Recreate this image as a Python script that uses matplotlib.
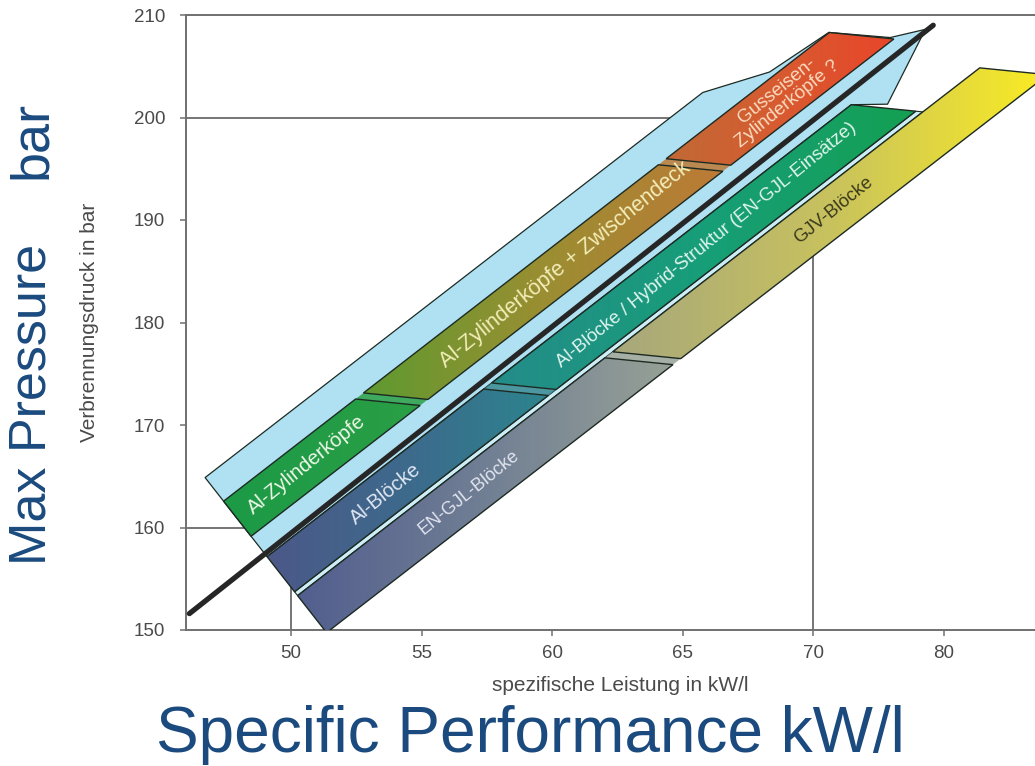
import numpy as np
import matplotlib
matplotlib.use("Agg")
import matplotlib.pyplot as plt
from matplotlib.patches import Polygon
from matplotlib.colors import LinearSegmentedColormap

plt.rcParams['font.family'] = ['Liberation Sans', 'DejaVu Sans']

# ---- axes -------------------------------------------------------------
x_ticks = [50, 55, 60, 65, 70, 75]
x_tick_labels = ['50', '55', '60', '65', '70', '80']
y_ticks = [150, 160, 170, 180, 190, 200, 210]
x_label = 'spezifische Leistung in kW/l'
y_label = 'Verbrennungsdruck in bar'

# ---- development trend (kW/l vs. bar) --------------------------------
trend_x = [46.1, 74.6]
trend_y = [151.6, 209.0]

# design points marked with guide lines
mark_x = [50, 70]
mark_y = [160, 200]

# ---- material bands -----------------------------------------------------
# all bands run parallel to an axis through (axis_x0, axis_y0)
axis_x0, axis_y0, band_slope = 49.0, 157.4, 1.97
steep_cut = -3.25   # slope of the left end of every band
flat_cut = -0.255   # slope of joints and right ends

# rows: upper / lower edge as offset (bar) from the band axis
row_top = [8.3, -0.4, -6.5]
row_bot = [2.8, -5.9, -12.3]

seg_names = ['Al-Zylinderköpfe',
             'Al-Zylinderköpfe + Zwischendeck',
             'Gusseisen-\nZylinderköpfe ?',
             'Al-Blöcke',
             'Al-Blöcke / Hybrid-Struktur (EN-GJL-Einsätze)',
             'EN-GJL-Blöcke',
             'GJV-Blöcke']
seg_row = [0, 0, 0, 1, 1, 2, 2]
seg_start = [49.0, 56.5, 68.1, 49.0, 57.5, 49.0, 59.4]
seg_end = [56.2, 67.8, 74.35, 57.2, 71.28, 59.1, 73.46]
seg_colors = [['#1c9a47', '#2a9f45'],
              ['#5e9a30', '#9a8e32', '#bd7a36'],
              ['#c06a36', '#d85a30', '#e8462a'],
              ['#4c5888', '#3d6a8c', '#2c848e'],
              ['#248c8a', '#179e78', '#14a052'],
              ['#525e8e', '#717f94', '#97a196'],
              ['#a7a77c', '#c8c25e', '#fbec22']]
label_x = [50.6, 60.5, 68.8, 53.6, 65.9, 56.8, 70.8]
label_sizes = [14.5, 15.5, 13.5, 14.5, 13.4, 13, 13.2]
label_colors = ['#eef8e8', '#f3edb8', '#f8dcc0', '#dfe6f2',
                '#dff4ee', '#e0e4ee', '#3a3a1c']

# thin separator strip between middle and lower row
sep_top, sep_bot, sep_end = -5.9, -6.5, 71.28

# light-blue envelope round the upper row
env_top = 12.0
env_tip_x = [65.77, 68.33, 70.6, 72.95, 74.3, 72.85]
env_tip_y = [202.44, 204.44, 208.3, 207.8, 208.6, 201.3]

band_blue = '#afe1f3'
edge_col = '#1d2a22'
guide_col = '#6a6a6a'
big_col = '#1b4a7e'

# ---- geometry helpers --------------------------------------------------
def base(x):
    return axis_y0 + band_slope * (x - axis_x0)

def cut_point(x0, d, kind):
    k = steep_cut if kind == 'steep' else flat_cut
    x = x0 - d / (band_slope - k)
    return (x, base(x) + d)

def parallelogram(x0, x1, d_top, d_bot):
    k0 = 'steep' if x0 == axis_x0 else 'flat'
    return [cut_point(x0, d_top, k0), cut_point(x1, d_top, 'flat'),
            cut_point(x1, d_bot, 'flat'), cut_point(x0, d_bot, k0)]


fig = plt.figure(figsize=(10.35, 7.66), dpi=100)
ax = fig.add_axes([186 / 1035, 136 / 766, 849 / 1035, 615 / 766])
xlim = (45.97, 78.5)
ylim = (150, 210)
ax.set_xlim(*xlim)
ax.set_ylim(*ylim)

# guide lines to the design points
for mx, my in zip(mark_x, mark_y):
    ax.plot([xlim[0], mx], [my, my], color=guide_col, lw=1.3, zorder=1)
    ax.plot([mx, mx], [ylim[0], my], color=guide_col, lw=1.3, zorder=1)

# envelope
env = [cut_point(axis_x0, env_top, 'steep')]
env += list(zip(env_tip_x, env_tip_y))
env += [cut_point(seg_end[4], row_top[1], 'flat'),
        cut_point(axis_x0, row_top[1], 'steep')]
ax.add_patch(Polygon(env, closed=True, facecolor=band_blue,
                     edgecolor=edge_col, lw=0.9, zorder=2))

# trend line
ax.plot(trend_x, trend_y, color='#262626', lw=3.8,
        solid_capstyle='round', zorder=3)

# separator strip
ax.add_patch(Polygon(parallelogram(axis_x0, sep_end, sep_top, sep_bot),
                     closed=True, facecolor='#cdeef7', edgecolor=edge_col,
                     lw=0.8, zorder=4))

# joints between neighbouring segments
for i in range(len(seg_names) - 1):
    if seg_row[i] == seg_row[i + 1]:
        r = seg_row[i]
        pts = parallelogram(seg_end[i], seg_start[i + 1], row_top[r], row_bot[r])
        ax.add_patch(Polygon(pts, closed=True, facecolor=seg_colors[i][-1],
                             edgecolor='none', alpha=0.85, zorder=4))

# segments with colour gradient
grad = np.linspace(0, 1, 256).reshape(1, -1)
for i, name in enumerate(seg_names):
    r = seg_row[i]
    pts = parallelogram(seg_start[i], seg_end[i], row_top[r], row_bot[r])
    poly = Polygon(pts, closed=True, facecolor='none', edgecolor=edge_col,
                   lw=1.0, zorder=6)
    ax.add_patch(poly)
    xs = [p[0] for p in pts]
    ys = [p[1] for p in pts]
    cmap = LinearSegmentedColormap.from_list('seg%d' % i, seg_colors[i])
    im = ax.imshow(grad, cmap=cmap, aspect='auto', interpolation='bicubic',
                   extent=(min(xs), max(xs), min(ys), max(ys)),
                   origin='lower', zorder=5)
    im.set_clip_path(poly)

ax.set_xlim(*xlim)
ax.set_ylim(*ylim)

# labels along the bands
p0 = ax.transData.transform((50, base(50)))
p1 = ax.transData.transform((70, base(70)))
angle = np.degrees(np.arctan2(p1[1] - p0[1], p1[0] - p0[0])) + 1.2
for i, name in enumerate(seg_names):
    r = seg_row[i]
    mid = 0.5 * (row_top[r] + row_bot[r])
    lx = label_x[i]
    ax.text(lx, base(lx) + mid, name, rotation=angle, rotation_mode='anchor',
            ha='center', va='center', fontsize=label_sizes[i],
            color=label_colors[i], linespacing=1.0, zorder=7)

# axes styling
for s in ['left', 'top', 'bottom']:
    ax.spines[s].set_color('#707070')
    ax.spines[s].set_linewidth(1.4)
ax.spines['right'].set_visible(False)
ax.set_xticks(x_ticks)
ax.set_xticklabels(x_tick_labels)
ax.set_yticks(y_ticks)
ax.tick_params(axis='both', direction='out', length=4, width=1.1,
               color='#707070', labelcolor='#4a4a4a', labelsize=13.5)
ax.tick_params(axis='x', pad=7)
ax.tick_params(axis='y', pad=11)
ax.set_xlabel(x_label, fontsize=15, color='#4a4a4a')
ax.xaxis.set_label_coords(0.511, -0.075)
ax.set_ylabel(y_label, fontsize=15, color='#4a4a4a')
ax.yaxis.set_label_coords(-0.1025, 0.5)
ax.set_facecolor('white')

# presentation captions
fig.text(0.031, 0.4726, 'Max Pressure', rotation=90,
         ha='center', va='center', fontsize=37.5, color=big_col)
fig.text(0.031, 0.8175, 'bar', rotation=90,
         ha='center', va='center', fontsize=39, color=big_col)
fig.text(0.512, 0.0183, 'Specific Performance kW/l', ha='center',
         va='baseline', fontsize=46, color=big_col)

fig.savefig('out.png', dpi=100)
